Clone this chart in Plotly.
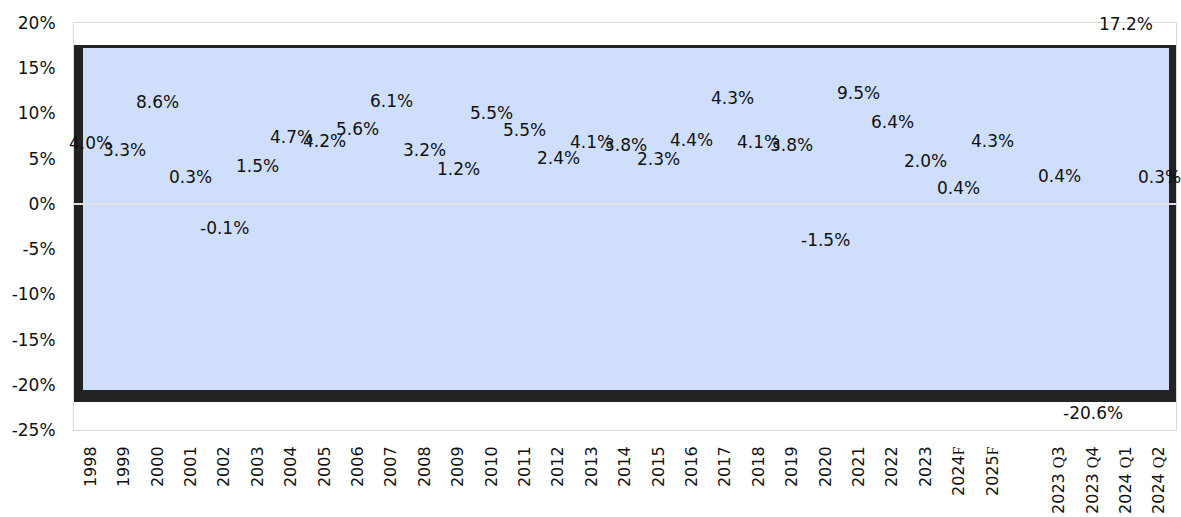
import plotly.graph_objects as go

# ── Data ──────────────────────────────────────────────────────────────────────

years = [str(y) for y in range(1998, 2024)] + ["2024F", "2025F"]
annual_growth = [4.0, 3.3, 8.6, 0.3, -0.1, 1.5, 4.7, 4.2, 5.6, 6.1, 3.2, 1.2,
                 5.5, 5.5, 2.4, 4.1, 3.8, 2.3, 4.4, 4.3, 4.1, 3.8, -1.5, 9.5,
                 6.4, 2.0, 0.4, 4.3]
quarters = ["2023 Q3", "2023 Q4", "2024 Q1", "2024 Q2"]
quarter_growth = [0.4, -20.6, 17.2, 0.3]

y_ticks = [20, 15, 10, 5, 0, -5, -10, -15, -20, -25]

# ── Style ─────────────────────────────────────────────────────────────────────

FONT = "DejaVu Sans"
SERIF = "Liberation Serif"
BLUE = "#cfdffb"
DARK = "#222222"
FRAME = "#d9d9d9"

# label pixel nudges where the original pushed labels aside (dx, dy-up)
LABEL_NUDGE = {"2007": (0, 23), "2010": (0, 17), "2017": (7, 43), "2024F": (0, -12)}

GAP = " "
cats = years + [GAP] + quarters
vals = annual_growth + [None] + quarter_growth
n = len(cats)
side_pad = 0.24  # dark side strip, in category units


def tick_text(c):
    # letters in the original fell back to a serif face
    return "".join(f"<span style='font-family:{SERIF}'>{ch}</span>" if ch.isalpha() else ch
                   for ch in c)


fig = go.Figure()

# dark backing bars (each spans the whole category range)
fig.add_trace(go.Bar(
    x=cats, y=vals, width=n, offset=[-0.5 - i for i in range(n)],
    marker=dict(color=DARK,
                line=dict(color=DARK,
                          width=[0 if v is None else (24 if v < 0 else 6) for v in vals])),
    hoverinfo="skip", showlegend=False,
))
# light blue bars on top
fig.add_trace(go.Bar(
    x=cats, y=vals, width=n - 1 + 2 * (0.5 - side_pad),
    offset=[-side_pad - i for i in range(n)],
    marker=dict(color=BLUE, line=dict(width=0)),
    hoverinfo="skip", showlegend=False,
))

# value labels (category index as x: year-like strings would be read as numbers)
for i, (c, v) in enumerate(zip(cats, vals)):
    if v is None:
        continue
    dx, dy = LABEL_NUDGE.get(c, (0, 0))
    fig.add_annotation(
        x=i, y=v, text=f"{v:.1f}%", showarrow=False,
        xshift=dx, yshift=(24.5 if v >= 0 else -23) + dy,
        font=dict(family=FONT, size=17, color="#111111"),
    )

# zero line drawn above the bars
fig.add_shape(type="line", xref="paper", x0=0, x1=1, yref="y", y0=0, y1=0,
              line=dict(color="#e2e2e2", width=2), layer="above")

fig.update_layout(
    width=1181, height=517,
    margin=dict(l=74, r=5, t=23, b=87),
    paper_bgcolor="white", plot_bgcolor="white",
    barmode="overlay", bargap=0,
    font=dict(family=FONT, color="#111111"),
)
fig.update_xaxes(
    type="category", categoryorder="array", categoryarray=cats,
    range=[-0.5, n - 0.5], tickangle=-90, automargin=False,
    tickvals=cats, ticktext=[tick_text(c) for c in cats],
    tickfont=dict(family=FONT, size=16), ticks="", ticklabelstandoff=9,
    showgrid=False, zeroline=False,
    showline=True, mirror=True, linecolor=FRAME, linewidth=1, layer="below traces",
)
fig.update_yaxes(
    range=[-25, 20], tickvals=y_ticks, ticktext=[f"{t}%" for t in y_ticks],
    tickfont=dict(family=FONT, size=17), ticks="", ticklabelstandoff=14,
    automargin=False,
    showgrid=False, zeroline=False,
    showline=True, mirror=True, linecolor=FRAME, linewidth=1, layer="below traces",
)

fig.write_html("out.html", config={"displayModeBar": False},
               post_script="document.body.style.margin = '0';")
